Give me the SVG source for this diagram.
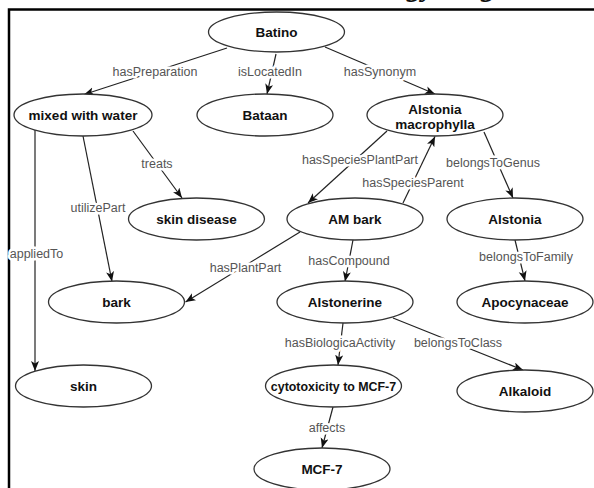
<svg xmlns="http://www.w3.org/2000/svg" width="594" height="488" viewBox="0 0 594 488">
<style>
.n ellipse{fill:#fff;stroke:#333;stroke-width:1.3}
.n text{font-family:"Liberation Sans",Arial,sans-serif;font-weight:bold;font-size:13.5px;fill:#111;text-anchor:middle}
.e line{stroke:#222;stroke-width:1.2;fill:none;marker-end:url(#arr)}
.lb{font-family:"Liberation Sans",Arial,sans-serif;font-size:12.5px;fill:#555;text-anchor:middle;stroke:#fff;stroke-width:5;stroke-linejoin:round;paint-order:stroke}
.cap{font-family:"Liberation Serif","Times New Roman",serif;font-weight:bold;font-style:italic;font-size:30px;fill:#111}
</style>
<defs>
<marker id="arr" markerUnits="userSpaceOnUse" markerWidth="11" markerHeight="9" refX="10" refY="4" orient="auto">
<path d="M0,0 L10,4 L0,8 L2.5,4 z" fill="#111"/>
</marker>
</defs>
<rect width="594" height="488" fill="#fff"/>
<text class="cap" x="322" y="-4">Ontology diagram</text>
<path d="M9,488 V9.5 H594" fill="none" stroke="#000" stroke-width="2.5"/>
<g id="connectors" class="e">
<line x1="227" y1="48" x2="84" y2="94.5"/>
<line x1="276" y1="54" x2="267" y2="94"/>
<line x1="325" y1="47" x2="435" y2="94"/>
<line x1="133" y1="131" x2="182" y2="198"/>
<line x1="83" y1="136" x2="112" y2="281.5"/>
<line x1="35" y1="130" x2="35" y2="371"/>
<line x1="387" y1="131" x2="308" y2="203"/>
<line x1="403" y1="203" x2="435" y2="136.5"/>
<line x1="484" y1="132" x2="513" y2="198"/>
<line x1="300" y1="232" x2="185.5" y2="302"/>
<line x1="353" y1="240" x2="345" y2="281.5"/>
<line x1="515" y1="240" x2="525" y2="281"/>
<line x1="343" y1="323" x2="338" y2="365"/>
<line x1="393" y1="318" x2="523" y2="370"/>
<line x1="333" y1="407" x2="322" y2="448"/>
</g>
<g id="labels">
<text class="lb" x="155" y="75.5">hasPreparation</text>
<text class="lb" x="270" y="75.5">isLocatedIn</text>
<text class="lb" x="380" y="75.5">hasSynonym</text>
<text class="lb" x="157" y="168">treats</text>
<text class="lb" x="98" y="212">utilizePart</text>
<text class="lb" x="36.5" y="258">appliedTo</text>
<text class="lb" x="245.5" y="272">hasPlantPart</text>
<text class="lb" x="360" y="163.5">hasSpeciesPlantPart</text>
<text class="lb" x="413" y="187">hasSpeciesParent</text>
<text class="lb" x="493" y="167">belongsToGenus</text>
<text class="lb" x="349" y="265">hasCompound</text>
<text class="lb" x="526" y="261">belongsToFamily</text>
<text class="lb" x="340" y="347">hasBiologicaActivity</text>
<text class="lb" x="458" y="347">belongsToClass</text>
<text class="lb" x="327" y="432">affects</text>
</g>
<g id="batino" class="n"><ellipse cx="276.5" cy="32" rx="68" ry="20"/><text x="276.5" y="37">Batino</text></g>
<g id="mixed" class="n"><ellipse cx="83" cy="115" rx="69" ry="21"/><text x="83" y="120">mixed with water</text></g>
<g id="bataan" class="n"><ellipse cx="265" cy="115" rx="68" ry="21"/><text x="265" y="120">Bataan</text></g>
<g id="alstonia-macrophylla" class="n"><ellipse cx="435" cy="115" rx="68" ry="21"/><text x="435" y="113.5">Alstonia</text><text x="435" y="128.5">macrophylla</text></g>
<g id="skin-disease" class="n"><ellipse cx="196.5" cy="219" rx="68" ry="21"/><text x="196.5" y="224">skin disease</text></g>
<g id="am-bark" class="n"><ellipse cx="355" cy="219" rx="68" ry="21"/><text x="355" y="224">AM bark</text></g>
<g id="alstonia" class="n"><ellipse cx="515" cy="219" rx="68" ry="21"/><text x="515" y="224">Alstonia</text></g>
<g id="bark" class="n"><ellipse cx="116.5" cy="302" rx="68" ry="21"/><text x="116.5" y="307">bark</text></g>
<g id="alstonerine" class="n"><ellipse cx="345" cy="302" rx="68" ry="21"/><text x="345" y="307">Alstonerine</text></g>
<g id="apocynaceae" class="n"><ellipse cx="525" cy="302" rx="68" ry="21"/><text x="525" y="307">Apocynaceae</text></g>
<g id="skin" class="n"><ellipse cx="83.5" cy="386" rx="68" ry="21"/><text x="83.5" y="391">skin</text></g>
<g id="cytotoxicity" class="n"><ellipse cx="333.5" cy="386" rx="68" ry="21"/><text x="333.5" y="391" style="font-size:12.4px">cytotoxicity to MCF-7</text></g>
<g id="alkaloid" class="n"><ellipse cx="525" cy="391" rx="68" ry="21"/><text x="525" y="396">Alkaloid</text></g>
<g id="mcf7" class="n"><ellipse cx="322" cy="469" rx="68" ry="21"/><text x="322" y="474">MCF-7</text></g>
</svg>
